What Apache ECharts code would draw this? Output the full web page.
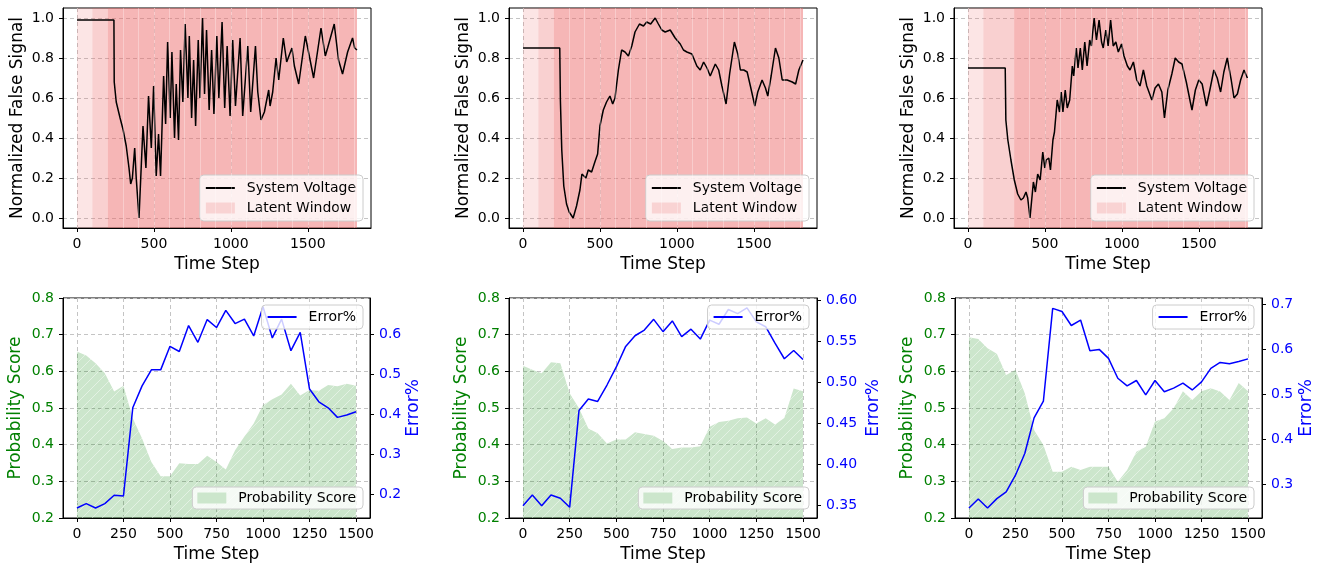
<!DOCTYPE html>
<html><head><meta charset="utf-8">
<script src="https://cdn.jsdelivr.net/npm/echarts@6/dist/echarts.min.js"></script>
<style>html,body{margin:0;padding:0;background:#fff}#c{width:1320px;height:567px}</style>
</head><body><div id="c"></div>
<script>
// ---------------- DATA ----------------
const voltage1 = [[0,0.99],[240,0.99],[242,0.68],[255,0.58],[280,0.50],[300,0.44],[320,0.36],[338,0.25],[349,0.17],[360,0.20],[375,0.35],[385,0.20],[403,0.0],[429,0.46],[448,0.25],[465,0.61],[483,0.35],[498,0.66],[515,0.21],[530,0.42],[543,0.21],[563,0.71],[576,0.47],[589,0.88],[606,0.50],[617,0.83],[634,0.40],[645,0.67],[660,0.39],[673,0.84],[688,0.58],[703,0.97],[721,0.60],[730,0.91],[745,0.50],[758,0.79],[771,0.46],[788,0.89],[799,0.60],[816,1.0],[829,0.62],[842,0.94],[859,0.54],[875,0.84],[890,0.52],[909,0.91],[922,0.60],[943,0.98],[960,0.55],[976,0.86],[995,0.51],[1012,0.89],[1030,0.56],[1060,0.90],[1077,0.51],[1110,0.86],[1129,0.53],[1160,0.86],[1175,0.63],[1196,0.49],[1218,0.53],[1233,0.59],[1246,0.64],[1255,0.56],[1272,0.63],[1285,0.62],[1294,0.80],[1311,0.69],[1341,0.90],[1363,0.78],[1397,0.85],[1413,0.76],[1441,0.67],[1484,0.91],[1510,0.81],[1538,0.70],[1586,0.95],[1614,0.81],[1629,0.85],[1672,0.97],[1700,0.79],[1726,0.72],[1759,0.83],[1791,0.90],[1805,0.85],[1820,0.84]];
const voltage2 = [[0,0.85],[239,0.85],[243,0.59],[252,0.34],[265,0.16],[283,0.07],[300,0.03],[326,0.0],[348,0.06],[370,0.14],[383,0.22],[409,0.20],[424,0.24],[446,0.23],[467,0.28],[485,0.32],[500,0.46],[522,0.54],[543,0.58],[565,0.61],[583,0.57],[598,0.60],[620,0.74],[641,0.84],[663,0.83],[685,0.81],[707,0.86],[728,0.93],[757,0.97],[783,0.96],[804,0.98],[830,0.97],[859,1.0],[880,0.97],[902,0.94],[924,0.93],[957,0.94],[989,0.90],[1022,0.87],[1043,0.84],[1065,0.83],[1098,0.82],[1130,0.76],[1152,0.74],[1174,0.78],[1196,0.75],[1217,0.71],[1250,0.77],[1272,0.74],[1293,0.66],[1320,0.57],[1343,0.72],[1374,0.88],[1396,0.82],[1413,0.74],[1435,0.74],[1457,0.73],[1478,0.66],[1507,0.56],[1526,0.63],[1554,0.69],[1576,0.65],[1591,0.61],[1613,0.71],[1641,0.85],[1663,0.80],[1685,0.69],[1717,0.69],[1750,0.68],[1772,0.67],[1793,0.74],[1820,0.79]];
const voltage3 = [[0,0.75],[242,0.75],[246,0.49],[259,0.39],[279,0.29],[301,0.19],[323,0.12],[344,0.09],[360,0.10],[377,0.13],[388,0.10],[403,0.0],[425,0.18],[438,0.13],[453,0.22],[469,0.19],[486,0.33],[499,0.25],[508,0.29],[525,0.30],[536,0.24],[552,0.39],[562,0.43],[580,0.59],[595,0.53],[606,0.63],[617,0.53],[632,0.64],[645,0.55],[661,0.59],[678,0.76],[687,0.71],[704,0.85],[715,0.75],[730,0.85],[743,0.74],[759,0.88],[774,0.76],[791,0.89],[802,0.86],[820,1.0],[835,0.89],[852,0.99],[868,0.88],[879,0.85],[896,0.94],[911,0.86],[927,0.99],[944,0.86],[961,0.88],[977,0.83],[998,0.87],[1014,0.81],[1036,0.76],[1053,0.74],[1075,0.78],[1097,0.69],[1118,0.66],[1140,0.74],[1162,0.66],[1195,0.59],[1216,0.65],[1238,0.67],[1260,0.63],[1277,0.50],[1299,0.64],[1325,0.72],[1347,0.80],[1369,0.78],[1391,0.77],[1419,0.68],[1445,0.58],[1456,0.54],[1478,0.64],[1500,0.69],[1522,0.67],[1550,0.56],[1572,0.64],[1598,0.74],[1620,0.70],[1642,0.63],[1663,0.73],[1685,0.80],[1711,0.69],[1729,0.60],[1751,0.62],[1772,0.69],[1794,0.74],[1816,0.70],[1820,0.70]];

// latent windows: [start, end] and overlap level (1..3)
const latent1 = [[0,100],[100,200],[200,1820]];
const latent2 = [[0,100],[100,200],[200,1820]];
const latent3 = [[0,100],[100,300],[300,1820]];
const latentLevel = [1,2,3];
// window edges visible as faint seams inside the shaded region
const latentSeams = [300,400,500,600,700,800,900,1000,1100,1200,1300,1400,1500,1600,1700,1800];

const steps = [0,50,100,150,200,250,300,350,400,450,500,550,600,650,700,750,800,850,900,950,1000,1050,1100,1150,1200,1250,1300,1350,1400,1450,1500];
const prob1 = [0.654,0.643,0.622,0.595,0.545,0.561,0.472,0.417,0.353,0.314,0.314,0.349,0.347,0.347,0.370,0.353,0.332,0.385,0.422,0.458,0.508,0.524,0.537,0.566,0.534,0.549,0.547,0.563,0.559,0.566,0.561];
const err1  = [0.166,0.177,0.166,0.177,0.198,0.196,0.417,0.472,0.512,0.512,0.571,0.558,0.623,0.581,0.638,0.618,0.661,0.628,0.639,0.597,0.670,0.592,0.639,0.560,0.606,0.464,0.432,0.417,0.393,0.399,0.407];
const prob2 = [0.615,0.604,0.595,0.625,0.622,0.540,0.499,0.444,0.431,0.403,0.414,0.414,0.434,0.429,0.424,0.410,0.388,0.392,0.392,0.396,0.449,0.462,0.465,0.472,0.474,0.458,0.472,0.455,0.473,0.553,0.546];
const err2  = [0.350,0.363,0.350,0.363,0.359,0.348,0.466,0.480,0.477,0.497,0.519,0.544,0.557,0.564,0.577,0.562,0.575,0.556,0.565,0.553,0.576,0.571,0.589,0.584,0.591,0.574,0.568,0.548,0.529,0.539,0.528];
const prob3 = [0.693,0.688,0.663,0.648,0.590,0.604,0.540,0.440,0.399,0.326,0.326,0.340,0.331,0.340,0.340,0.340,0.299,0.331,0.381,0.394,0.463,0.472,0.499,0.546,0.522,0.546,0.554,0.545,0.522,0.568,0.546];
const err3  = [0.247,0.267,0.247,0.268,0.283,0.320,0.368,0.447,0.484,0.690,0.683,0.652,0.664,0.596,0.599,0.579,0.535,0.518,0.530,0.498,0.530,0.505,0.513,0.524,0.509,0.527,0.557,0.570,0.567,0.572,0.578];

// tick labels
const topXTicks = [0,500,1000,1500];
const topYTicks = [0,0.2,0.4,0.6,0.8,1.0];
const botXTicks = [0,250,500,750,1000,1250,1500];
const probTicks = [0.2,0.3,0.4,0.5,0.6,0.7,0.8];
const errTicks1 = [0.2,0.3,0.4,0.5,0.6];
const errTicks2 = [0.35,0.40,0.45,0.50,0.55,0.60];
const errTicks3 = [0.3,0.4,0.5,0.6,0.7];
const errRange1 = [0.141,0.692];
const errRange2 = [0.335,0.603];
const errRange3 = [0.225,0.713];

// ---------------- STYLE / LAYOUT ----------------
const FONT = 'DejaVu Sans';
const topLayout = [{left:63,width:308},{left:509,width:308},{left:954,width:308}];
const botLayout = [{left:63,width:307},{left:509,width:308},{left:955,width:307}];
const legendRight = [957,511,66];
const errNameGap = [33,48,36];
const errDigits = [1,2,1];
const latentColors = ['rgba(235,100,100,0.17)','rgba(235,100,100,0.30)','rgba(235,100,100,0.47)'];

function hatch(){
  const c=document.createElement('canvas'); c.width=10; c.height=10;
  const g=c.getContext('2d');
  g.fillStyle='rgba(0,128,0,0.2)'; g.fillRect(0,0,10,10);
  g.strokeStyle='rgba(255,255,255,0.55)'; g.lineWidth=0.8;
  g.beginPath();
  g.moveTo(-5,5); g.lineTo(5,-5);
  g.moveTo(0,10); g.lineTo(10,0);
  g.moveTo(5,15); g.lineTo(15,5);
  g.stroke();
  return c;
}
const hatchCanvas = hatch();

const tick = {show:true,length:4,inside:false,lineStyle:{color:'#000',width:1}};
const gridLine = {show:true,lineStyle:{color:'#c4c4c4',width:1,type:[4,3]}};
const axLine = {show:true,onZero:false,lineStyle:{color:'#000',width:1}};
const lbl = (vals,fmt,color)=>({customValues:vals,fontFamily:FONT,fontSize:14,color:color||'#000',margin:9,formatter:fmt});
const nameStyle = (color)=>({fontFamily:FONT,fontSize:17,color:color||'#000'});

const grids=[], xAxes=[], yAxes=[], series=[], legends=[];
const voltages=[voltage1,voltage2,voltage3];
const latents=[latent1,latent2,latent3];
const probs=[prob1,prob2,prob3];
const errs=[err1,err2,err3];
const errTicks=[errTicks1,errTicks2,errTicks3];
const errRanges=[errRange1,errRange2,errRange3];

for(let i=0;i<3;i++){
  grids.push({left:topLayout[i].left,width:topLayout[i].width,top:8,height:220,show:true,borderColor:'#000',borderWidth:1});
  xAxes.push({type:'value',gridIndex:i,min:-91,max:1911,axisLine:axLine,axisTick:Object.assign({customValues:topXTicks},tick),
    axisLabel:lbl(topXTicks,v=>String(v)),splitLine:gridLine,name:'Time Step',nameLocation:'middle',nameGap:28,nameTextStyle:nameStyle()});
  yAxes.push({type:'value',gridIndex:i,min:-0.05,max:1.05,axisLine:axLine,axisTick:Object.assign({customValues:topYTicks},tick),
    axisLabel:lbl(topYTicks,v=>v.toFixed(1)),splitLine:gridLine,name:'Normalized False Signal',nameLocation:'middle',nameGap:37,nameRotate:90,nameTextStyle:nameStyle()});
  series.push({type:'line',name:'System Voltage',xAxisIndex:i,yAxisIndex:i,data:voltages[i],showSymbol:false,symbol:'none',
    lineStyle:{color:'#000',width:1.5},itemStyle:{color:'#000'},z:3,
    markArea:{silent:true,label:{show:false},
      data:latents[i].map((b,k)=>[{xAxis:b[0],itemStyle:{color:latentColors[latentLevel[k]-1]}},{xAxis:b[1]}])},
    markLine:{silent:true,symbol:['none','none'],label:{show:false},lineStyle:{color:'rgba(255,255,255,0.3)',width:1,type:'solid'},
      data:latentSeams.filter(s=>s>latents[i][2][0]).map(s=>({xAxis:s}))}});
  series.push({type:'line',name:'Latent Window',xAxisIndex:i,yAxisIndex:i,data:[],itemStyle:{color:'#f9d3d3'},lineStyle:{color:'#f9d3d3'}});
}
for(let i=0;i<3;i++){
  const gi=3+i;
  grids.push({left:botLayout[i].left,width:botLayout[i].width,top:298,height:220,show:true,borderColor:'#000',borderWidth:1});
  xAxes.push({type:'value',gridIndex:gi,min:-75,max:1575,axisLine:axLine,axisTick:Object.assign({customValues:botXTicks},tick),
    axisLabel:lbl(botXTicks,v=>String(v)),splitLine:gridLine,name:'Time Step',nameLocation:'middle',nameGap:28,nameTextStyle:nameStyle()});
}
for(let i=0;i<3;i++){
  const gi=3+i;
  yAxes.push({type:'value',gridIndex:gi,min:0.2,max:0.8,axisLine:axLine,axisTick:Object.assign({customValues:probTicks},tick),
    axisLabel:lbl(probTicks,v=>v.toFixed(1),'#008000'),splitLine:gridLine,name:'Probability Score',nameLocation:'middle',nameGap:39,nameRotate:90,nameTextStyle:nameStyle('#008000')});
}
for(let i=0;i<3;i++){
  const gi=3+i;
  yAxes.push({type:'value',gridIndex:gi,position:'right',min:errRanges[i][0],max:errRanges[i][1],axisLine:axLine,
    axisTick:Object.assign({customValues:errTicks[i]},tick),
    axisLabel:lbl(errTicks[i],v=>v.toFixed(errDigits[i]),'#0000ff'),splitLine:{show:false},
    name:'Error%',nameLocation:'middle',nameGap:errNameGap[i],nameRotate:90,nameTextStyle:nameStyle('#0000ff')});
}
for(let i=0;i<3;i++){
  const gi=3+i;
  series.push({type:'line',name:'Probability Score',xAxisIndex:gi,yAxisIndex:3+i,data:steps.map((s,k)=>[s,probs[i][k]]),
    showSymbol:false,symbol:'none',lineStyle:{width:0,color:'rgba(0,0,0,0)'},itemStyle:{color:'#cce6cc'},
    areaStyle:{color:{image:hatchCanvas,repeat:'repeat'},opacity:1,origin:'start'},z:2});
  series.push({type:'line',name:'Error%',xAxisIndex:gi,yAxisIndex:6+i,data:steps.map((s,k)=>[s,errs[i][k]]),
    showSymbol:false,symbol:'none',lineStyle:{color:'#0000ff',width:1.5},itemStyle:{color:'#0000ff'},z:3});
}

const legendBase = {orient:'vertical',selectedMode:false,backgroundColor:'rgba(255,255,255,0.8)',borderColor:'#cccccc',borderWidth:1,borderRadius:4,
  itemWidth:29,itemHeight:11,itemGap:6,textStyle:{fontFamily:FONT,fontSize:14,color:'#000',padding:[0,0,0,7]},padding:[6,7,6,5]};
const noDot = {opacity:0,borderWidth:0};
for(let i=0;i<3;i++){
  legends.push(Object.assign({},legendBase,{right:legendRight[i],bottom:346,
    data:[{name:'System Voltage',itemStyle:noDot},{name:'Latent Window',icon:'rect'}]}));
  legends.push(Object.assign({},legendBase,{right:legendRight[i],top:305,padding:[5,7,5,5],data:[{name:'Error%',itemStyle:noDot}]}));
  legends.push(Object.assign({},legendBase,{right:legendRight[i],bottom:58,padding:[4,7,4,5],data:[{name:'Probability Score',icon:'rect'}]}));
}

const chart = echarts.init(document.getElementById('c'),null,{renderer:'canvas',width:1320,height:567});
chart.setOption({animation:false,grid:grids,xAxis:xAxes,yAxis:yAxes,series:series,legend:legends});
</script></body></html>
